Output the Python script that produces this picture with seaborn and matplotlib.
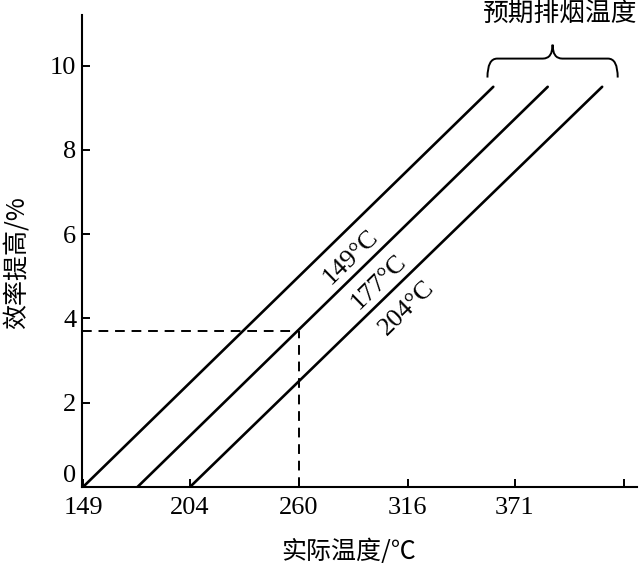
import numpy as np
import pandas as pd
import matplotlib
matplotlib.use('Agg')
import matplotlib.pyplot as plt
from matplotlib.path import Path
from matplotlib.patches import PathPatch
import seaborn as sns

# expected flue-gas temperatures (°C) and the lines' start/end points
series_names = ['149℃', '177℃', '204℃']
x_start = [149, 177, 204]
x_end = [360, 388, 416]
y_start = [0, 0, 0]
y_end = [9.5, 9.5, 9.5]
curve_labels = ['149°C', '177°C', '204°C']

# dashed reading: actual 260 °C -> 3.7 %
read_x = 260
read_y = 3.7

xtick_vals = [149, 204, 260, 316, 371, 427]
xtick_labels = ['149', '204', '260', '316', '371', '']
ytick_vals = [0, 2, 4, 6, 8, 10]

rows = []
for name, xs, xe, ys, ye in zip(series_names, x_start, x_end, y_start, y_end):
    rows.append({'temp': xs, 'gain': ys, 'series': name})
    rows.append({'temp': xe, 'gain': ye, 'series': name})
df = pd.DataFrame(rows)

sns.set_theme(style='ticks')
plt.rcParams['font.family'] = ['Liberation Serif', 'Noto Sans CJK SC']
plt.rcParams['axes.unicode_minus'] = False
for key in ['text.color', 'axes.labelcolor', 'xtick.color', 'ytick.color']:
    plt.rcParams[key] = 'black'

fig = plt.figure(figsize=(6.41, 5.63), dpi=100)
ax = fig.add_axes([0.128, 0.135, 0.866, 0.838])

sns.lineplot(data=df, x='temp', y='gain', hue='series',
             palette=['black'] * 3, linewidth=1.9, legend=False, ax=ax)

# dashed guide lines
ax.plot([148.5, read_x], [read_y, read_y], color='black', lw=1.4, dashes=(5, 3.5))
ax.plot([read_x, read_x], [0, read_y], color='black', lw=1.4, dashes=(5, 3.5))

ax.set_xlim(148.5, 434)
ax.set_ylim(0, 11.2)
ax.set_xticks(xtick_vals)
ax.set_xticklabels(xtick_labels)
ax.set_yticks(ytick_vals)

for side in ['top', 'right']:
    ax.spines[side].set_visible(False)
for side in ['left', 'bottom']:
    ax.spines[side].set_linewidth(1.5)
    ax.spines[side].set_color('black')
ax.tick_params(direction='in', length=6, width=1.4, colors='black',
               labelsize=19)
ax.tick_params(axis='y', pad=4)
ax.tick_params(axis='x', pad=7)
# the "0" label sits just above the x axis
ax.get_yticklabels()[0].set_va('bottom')

ax.set_xlabel('实际温度/℃', fontsize=18, family=['Noto Sans CJK SC'])
ax.set_ylabel('效率提高/%', fontsize=18, family=['Noto Sans CJK SC', 'Liberation Serif'])
ax.xaxis.set_label_coords(0.481, -0.109)
ax.yaxis.set_label_coords(-0.092, 0.475)

# rotated curve labels along the lines
slope = (y_end[0] - y_start[0]) / (x_end[0] - x_start[0])
angle = np.degrees(np.arctan(slope))
label_pos = [(286.6, 5.47), (300.9, 4.86), (315.8, 4.24)]
for text, (lx, ly) in zip(curve_labels, label_pos):
    ax.text(lx, ly, text, fontsize=19, rotation=angle, rotation_mode='anchor',
            transform_rotates_text=True, ha='center', va='center',
            family=['Liberation Serif'])

# curly brace over the line ends
x0, x1 = 357, 424
xm = (x0 + x1) / 2
yb, yf, yp = 9.72, 10.17, 10.5
r = 5
verts = [(x0, yb), (x0, yf), (x0 + r, yf),
         (xm - r, yf), (xm, yf), (xm, yp),
         (xm, yf), (xm + r, yf),
         (x1 - r, yf), (x1, yf), (x1, yb)]
codes = [Path.MOVETO, Path.CURVE3, Path.CURVE3,
         Path.LINETO, Path.CURVE3, Path.CURVE3,
         Path.CURVE3, Path.CURVE3,
         Path.LINETO, Path.CURVE3, Path.CURVE3]
ax.add_patch(PathPatch(Path(verts, codes), fill=False, lw=1.4,
                       edgecolor='black', clip_on=False))
ax.text(394.5, 11.2, '预期排烟温度', fontsize=18.5, ha='center', va='center',
        family=['Noto Sans CJK SC'], clip_on=False)

fig.savefig('out.png', dpi=100, facecolor='white')
